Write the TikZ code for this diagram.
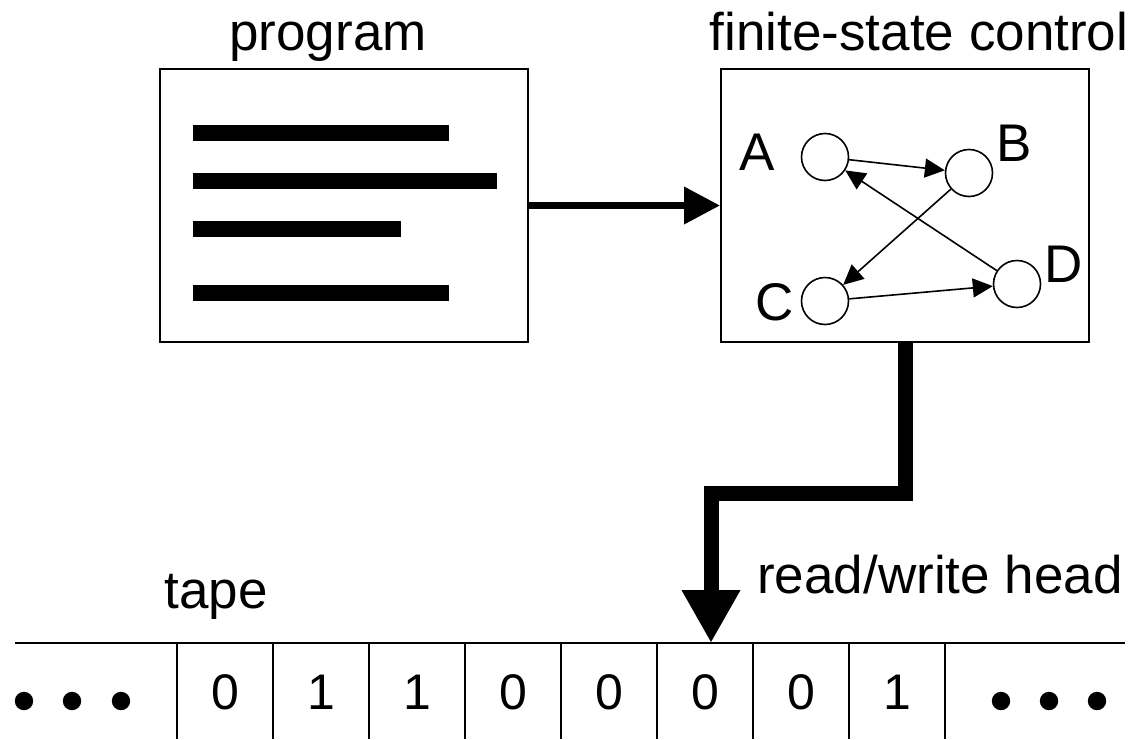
\documentclass[tikz,border=0pt]{standalone}
\usepackage{fontspec}
\setmainfont{Liberation Sans}
\usepackage{tikz}
\usetikzlibrary{arrows.meta,positioning}
\tikzset{
  prbox/.style={draw,line width=1pt,minimum width=184pt,minimum height=136.5pt,inner sep=0pt},
  bar/.style={line width=8pt},
  flow/.style={-{Triangle[length=18pt,width=18pt]},line width=3.5pt},
  headarr/.style={-{Triangle[length=26.5pt,width=27.5pt]},line width=7.5pt,line join=miter},
  st/.style={circle,draw,line width=0.8pt,minimum size=23.5pt,inner sep=0pt},
  trans/.style={-{Triangle[length=10pt,width=9.5pt]},line width=0.8pt},
  lbl/.style={font=\fontsize{26.5}{30}\selectfont,inner sep=0pt},
  cellno/.style={font=\fontsize{25}{30}\selectfont,inner sep=0pt},
  tape/.style={line width=0.7pt},
}

\begin{document}
\begin{tikzpicture}[x=0.5pt,y=-0.5pt]
  \useasboundingbox (0,0) rectangle (1138,739);
  % program and control
  \node[prbox] (prog) at (344,205.5) {};
  \node[prbox] (fsc) at (905,205.5) {};
  \node[lbl,anchor=base] (tprog) at (328,50) {program};
  \node[lbl,anchor=base] (tfsc) at (919,50) {finite-state control};
  \draw[bar] (193,133) -- (449,133);
  \draw[bar] (193,181) -- (497,181);
  \draw[bar] (193,229) -- (401,229);
  \draw[bar] (193,293) -- (449,293);
  \draw[flow] (prog.east) -- (fsc.west);
  % states
  \node[st] (A) at (825,157) {};
  \node[st] (B) at (969,173) {};
  \node[st] (C) at (825,301) {};
  \node[st] (D) at (1017,284) {};
  \node[lbl] at (757,152) {A};
  \node[lbl] at (1014,143) {B};
  \node[lbl] at (775,302) {C};
  \node[lbl] at (1064,264) {D};
  \draw[trans] (A) -- (B);
  \draw[trans] (B) -- (C);
  \draw[trans] (C) -- (D);
  \draw[trans] (D) -- (A);
  % tape
  \draw[tape] (15,643) -- (1125,643);
  \foreach \x in {177,273,...,945}
    \draw[tape] (\x,643) -- (\x,739);
  \foreach \d [count=\i] in {0,1,1,0,0,0,0,1}
    \node[cellno] (c\i) at ({129+96*\i},692) {\d};
  \foreach \x in {24,72,121}
    \fill (\x,701) circle (4.6pt);
  \foreach \x in {1001,1049,1097}
    \fill (\x,701) circle (4.6pt);
  \node[lbl,anchor=base] (ttape) at (216,608) {tape};
  \node[lbl,anchor=base] (thead) at (940,593) {read/write head};
  % head
  \coordinate (bend) at (905,493);
  \coordinate (tip) at (711,643);
  \draw[headarr] (fsc.south) -- (bend) -| (tip);
\end{tikzpicture}
\end{document}
